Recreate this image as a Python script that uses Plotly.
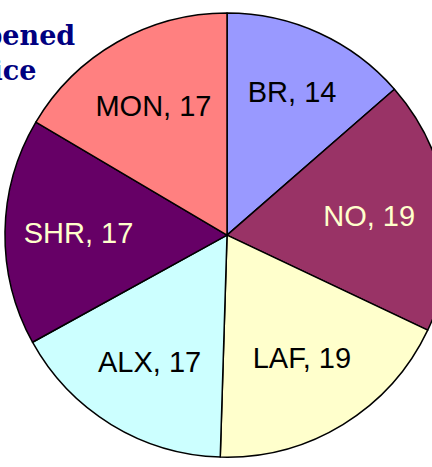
import plotly.graph_objects as go

offices = ["BR", "NO", "LAF", "ALX", "SHR", "MON"]
cases = [14, 19, 19, 17, 17, 17]
slice_colors = ["#9999FF", "#993366", "#FFFFCC", "#CCFFFF", "#660066", "#FF8080"]
label_colors = ["#000000", "#FFFFCC", "#000000", "#000000", "#FFFFCC", "#000000"]

fig = go.Figure(
    go.Pie(
        labels=offices,
        values=cases,
        sort=False,
        direction="clockwise",
        rotation=0,
        marker=dict(colors=slice_colors, line=dict(color="#000000", width=1.5)),
        texttemplate="%{label}, %{value}",
        textposition="inside",
        insidetextorientation="horizontal",
        textfont=dict(family="Liberation Sans, Arial, sans-serif", size=29, color=label_colors),
        domain=dict(x=[0.011, 0.998], y=[0.021, 0.972]),
        showlegend=False,
        hoverinfo="label+value",
    )
)

# title sits partly off the left edge, as in the original
fig.add_annotation(
    text="Cases Opened<br>by Office",
    xref="paper", yref="paper",
    x=-0.068, y=1.0,
    xanchor="center", yanchor="top",
    yshift=-18,
    align="center",
    showarrow=False,
    font=dict(family="DejaVu Serif, serif", size=27, color="#000080", weight="bold"),
)

# the pie runs past the right edge of the window, like the original
fig.update_layout(
    width=450,
    height=467,
    margin=dict(l=0, r=0, t=0, b=0),
    paper_bgcolor="white",
    plot_bgcolor="white",
)

fig.write_html(
    "out.html",
    config={"displayModeBar": False},
    post_script="document.body.style.margin='0'; document.body.style.overflow='hidden';",
)
